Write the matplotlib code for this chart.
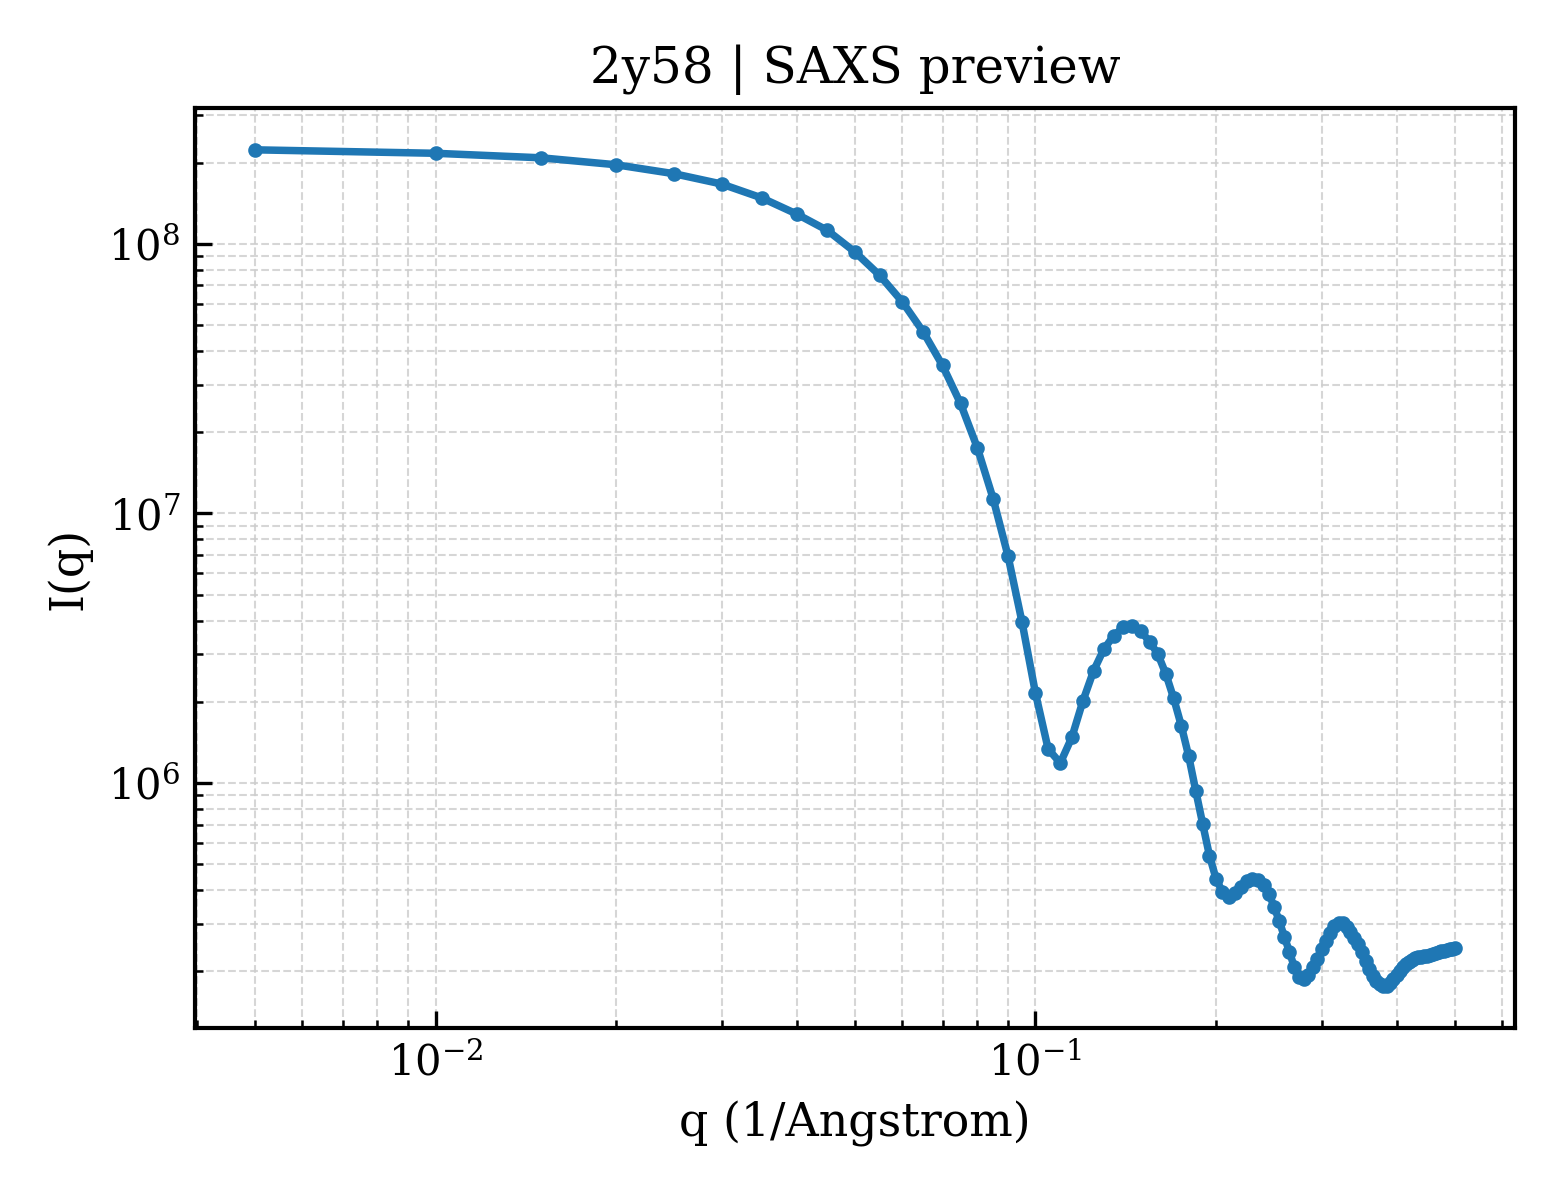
import matplotlib
matplotlib.use("Agg")
import matplotlib.pyplot as plt
import numpy as np

# scattering vector (1/Angstrom), 0.005 steps
q = [0.005, 0.010, 0.015, 0.020, 0.025, 0.030, 0.035, 0.040, 0.045, 0.050,
     0.055, 0.060, 0.065, 0.070, 0.075, 0.080, 0.085, 0.090, 0.095, 0.100,
     0.105, 0.110, 0.115, 0.120, 0.125, 0.130, 0.135, 0.140, 0.145, 0.150,
     0.155, 0.160, 0.165, 0.170, 0.175, 0.180, 0.185, 0.190, 0.195, 0.200,
     0.205, 0.210, 0.215, 0.220, 0.225, 0.230, 0.235, 0.240, 0.245, 0.250,
     0.255, 0.260, 0.265, 0.270, 0.275, 0.280, 0.285, 0.290, 0.295, 0.300,
     0.305, 0.310, 0.315, 0.320, 0.325, 0.330, 0.335, 0.340, 0.345, 0.350,
     0.355, 0.360, 0.365, 0.370, 0.375, 0.380, 0.385, 0.390, 0.395, 0.400,
     0.405, 0.410, 0.415, 0.420, 0.425, 0.430, 0.435, 0.440, 0.445, 0.450,
     0.455, 0.460, 0.465, 0.470, 0.475, 0.480, 0.485, 0.490, 0.495, 0.500]

# intensity I(q)
intensity = [2.229e8, 2.164e8, 2.082e8, 1.962e8, 1.817e8, 1.664e8, 1.477e8, 1.288e8, 1.120e8, 9.318e7,
             7.630e7, 6.083e7, 4.710e7, 3.534e7, 2.555e7, 1.751e7, 1.134e7, 6.949e6, 3.937e6, 2.154e6,
             1.336e6, 1.186e6, 1.477e6, 2.017e6, 2.606e6, 3.135e6, 3.512e6, 3.773e6, 3.805e6, 3.649e6,
             3.337e6, 3.004e6, 2.533e6, 2.059e6, 1.633e6, 1.262e6, 9.365e5, 7.049e5, 5.379e5, 4.410e5,
             3.937e5, 3.792e5, 3.913e5, 4.108e5, 4.323e5, 4.410e5, 4.353e5, 4.190e5, 3.881e5, 3.473e5,
             3.064e5, 2.689e5, 2.366e5, 2.082e5, 1.912e5, 1.880e5, 1.945e5, 2.082e5, 2.229e5, 2.428e5,
             2.598e5, 2.782e5, 2.953e5, 3.030e5, 3.030e5, 2.928e5, 2.806e5, 2.666e5, 2.533e5, 2.366e5,
             2.191e5, 2.047e5, 1.929e5, 1.848e5, 1.793e5, 1.763e5, 1.770e5, 1.817e5, 1.880e5, 1.945e5,
             2.012e5, 2.082e5, 2.136e5, 2.173e5, 2.210e5, 2.239e5, 2.258e5, 2.268e5, 2.278e5, 2.288e5,
             2.307e5, 2.327e5, 2.337e5, 2.357e5, 2.377e5, 2.387e5, 2.397e5, 2.418e5, 2.428e5, 2.449e5]

plt.rcParams['font.family'] = 'serif'
plt.rcParams['font.serif'] = ['DejaVu Serif']

fig, ax = plt.subplots(figsize=(5.2, 4.0), dpi=300)
fig.subplots_adjust(left=0.125, right=0.971, top=0.91, bottom=0.1433)

ax.plot(q, intensity, color='#1f77b4', linewidth=1.8, marker='o', markersize=2.5)
ax.set_xscale('log')
ax.set_yscale('log')

ax.set_title('2y58 | SAXS preview', fontsize=12)
ax.set_xlabel('q (1/Angstrom)', fontsize=11)
ax.set_ylabel('I(q)', fontsize=11)

ax.grid(True, which='both', linestyle='--', linewidth=0.5, color='#cccccc', alpha=0.8)
ax.tick_params(which='both', direction='in', labelsize=10)
ax.tick_params(which='major', length=4, width=0.8)
ax.tick_params(which='minor', length=2, width=0.6)
for s in ax.spines.values():
    s.set_linewidth(1.0)

plt.savefig('out.png', dpi=300)
